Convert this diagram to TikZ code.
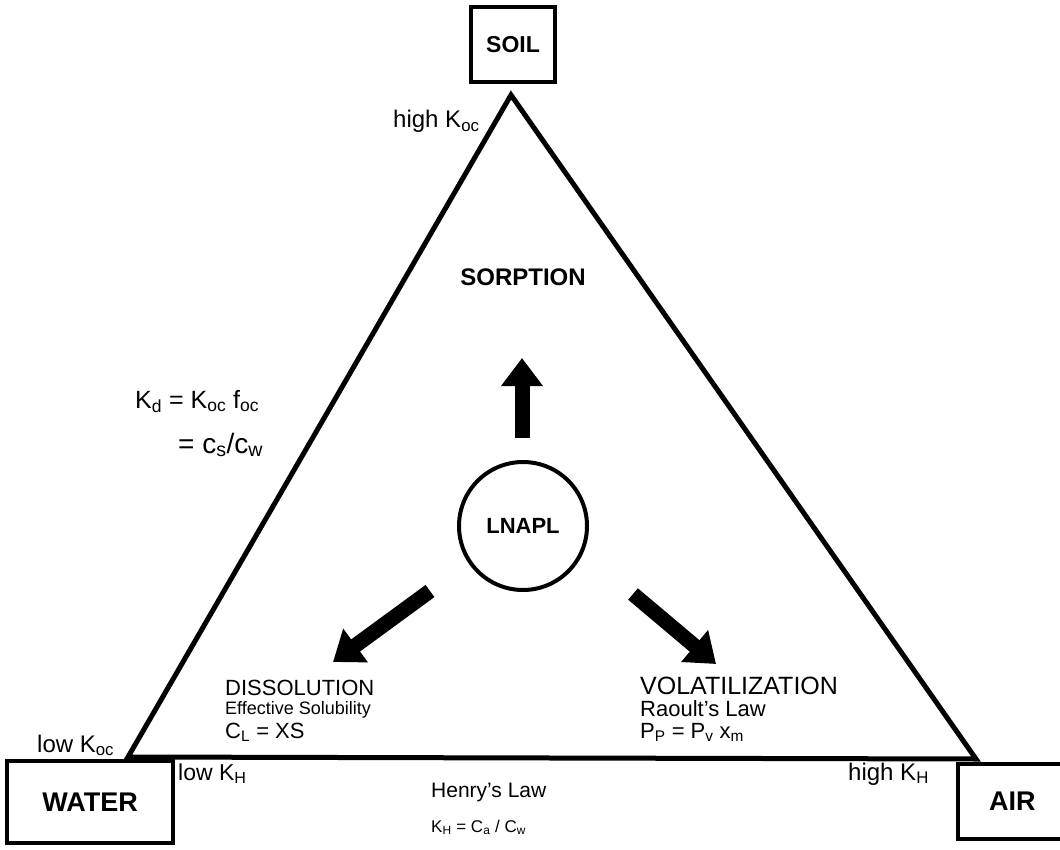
\documentclass[tikz,border=0pt]{standalone}
\usepackage{fontspec}
\setmainfont{Liberation Sans}
\usetikzlibrary{arrows.meta}
\newcommand\sbs[1]{\textsubscript{#1}}
\begin{document}
\begin{tikzpicture}[x=1pt,y=-1pt,
  fs/.style={font=\fontsize{#1}{#1}\selectfont},
  fb/.style={font=\fontsize{#1}{#1}\selectfont\bfseries},
  lbl/.style={inner sep=0pt, anchor=base west},
  boxnode/.style={draw, line width=4pt, inner sep=0pt},
  fatarrow/.style={line width=15pt, -{Triangle[length=28pt,width=40pt]}},
  ]
\useasboundingbox (0,0) rectangle (1060,850);
% corners
\coordinate (apex) at (511,95);
\coordinate (bl) at (128,757);
\coordinate (br) at (976,759);
\draw[line width=5pt, line join=miter] (bl) -- (apex) -- (br) -- cycle;
% boxes
\node[boxnode, fb=23, minimum width=84pt, minimum height=75pt] (soil) at (513,45) {SOIL};
\node[boxnode, fb=27, minimum width=166pt, minimum height=82pt] (water) at (90,802) {WATER};
\node[boxnode, fb=27, minimum width=130pt, minimum height=75pt, text width=102pt, align=left] (air) at (1023,801) {\hspace*{17pt}AIR};
% circle
\node[draw, circle, line width=4pt, minimum size=128pt, inner sep=0pt, fb=22] (lnapl) at (523,526) {LNAPL};
% arrows
\coordinate (upT) at (522,438);
\coordinate (upH) at (522,358);
\coordinate (dlT) at (430,591);
\coordinate (dlH) at (333,662);
\coordinate (drT) at (633,594);
\coordinate (drH) at (716,664);
\draw[fatarrow] (upT) -- (upH);
\draw[fatarrow] (dlT) -- (dlH);
\draw[fatarrow] (drT) -- (drH);
% labels
\node[lbl, fs=24] (hkoc) at (393,128) {high K\sbs{oc}};
\node[inner sep=0pt, fb=24] (sorp) at (523,277) {SORPTION};
\node[lbl, fs=25] (kd) at (135,408) {K\sbs{d} = K\sbs{oc} f\sbs{oc}};
\node[lbl, fs=28] (cscw) at (178,453) {= c\sbs{s}/c\sbs{w}};
\node[lbl, fs=22] (diss) at (225,695) {DISSOLUTION};
\node[lbl, fs=18] (effs) at (225,714) {Effective Solubility};
\node[lbl, fs=22] (cl) at (225,738) {C\sbs{L} = XS};
\node[lbl, fs=25] (vol) at (640,694) {VOLATILIZATION};
\node[lbl, fs=22] (raoult) at (640,716) {Raoult's Law};
\node[lbl, fs=22] (pp) at (640,738) {P\sbs{P} = P\sbs{v} x\sbs{m}};
\node[lbl, fs=24] (lkoc) at (37,752) {low K\sbs{oc}};
\node[lbl, fs=23] (lkh) at (178,780) {low K\sbs{H}};
\node[lbl, fs=24] (hkh) at (848,780) {high K\sbs{H}};
\node[lbl, fs=21] (henry) at (431,797) {Henry's Law};
\node[lbl, fs=17] (khl) at (431,832) {K\sbs{H} = C\sbs{a} / C\sbs{w}};
\end{tikzpicture}
\end{document}
